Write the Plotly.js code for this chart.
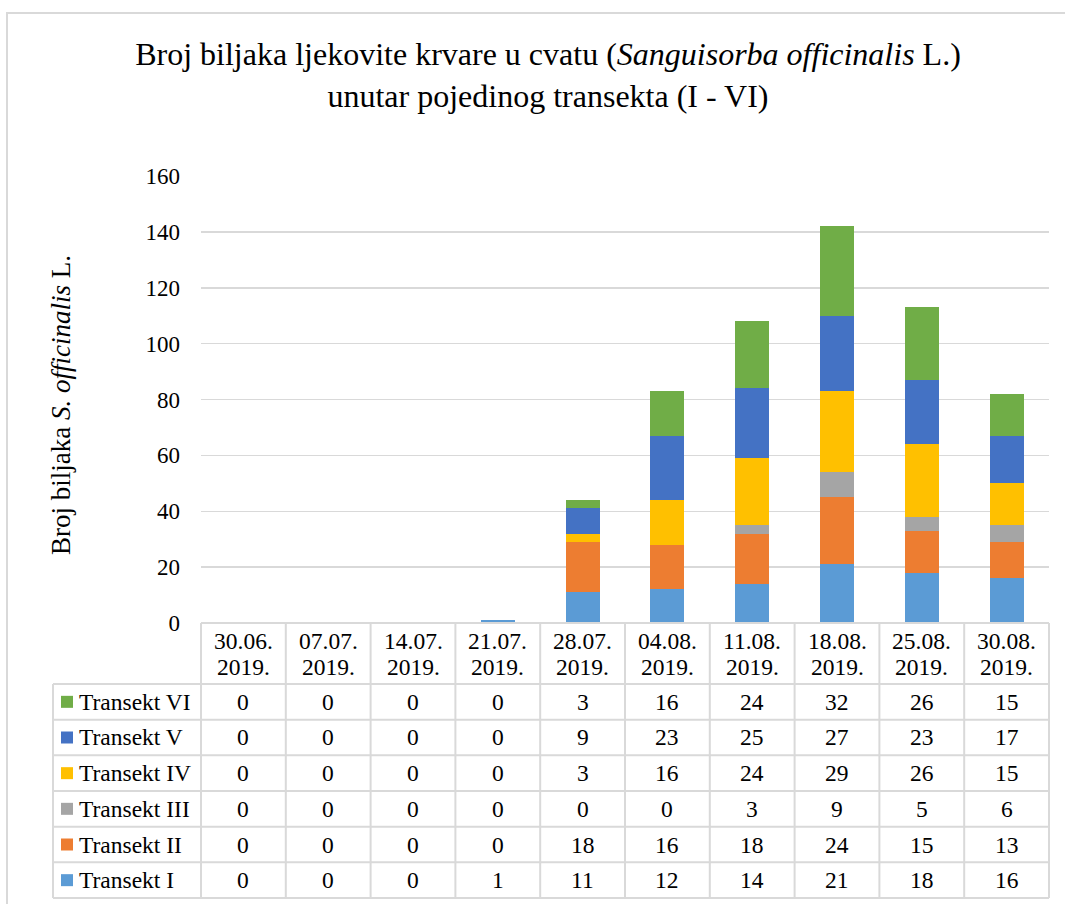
<!DOCTYPE html>
<html>
<head>
<meta charset="utf-8">
<script src="https://cdn.plot.ly/plotly-3.0.1.min.js"></script>
<style>
  html, body { margin: 0; padding: 0; background: #ffffff; }
  #chart { width: 1065px; height: 904px; }
</style>
</head>
<body>
<div id="chart"></div>
<script>
// ---- Data ----
const dates = ['30.06. 2019.', '07.07. 2019.', '14.07. 2019.', '21.07. 2019.', '28.07. 2019.',
               '04.08. 2019.', '11.08. 2019.', '18.08. 2019.', '25.08. 2019.', '30.08. 2019.'];
const seriesNames = ['Transekt I', 'Transekt II', 'Transekt III', 'Transekt IV', 'Transekt V', 'Transekt VI'];
const transektI   = [0, 0, 0, 1, 11, 12, 14, 21, 18, 16];
const transektII  = [0, 0, 0, 0, 18, 16, 18, 24, 15, 13];
const transektIII = [0, 0, 0, 0, 0, 0, 3, 9, 5, 6];
const transektIV  = [0, 0, 0, 0, 3, 16, 24, 29, 26, 15];
const transektV   = [0, 0, 0, 0, 9, 23, 25, 27, 23, 17];
const transektVI  = [0, 0, 0, 0, 3, 16, 24, 32, 26, 15];
const yTicks = [0, 20, 40, 60, 80, 100, 120, 140, 160];

const seriesValues = [transektI, transektII, transektIII, transektIV, transektV, transektVI];
const seriesColors = ['#5B9BD5', '#ED7D31', '#A5A5A5', '#FFC000', '#4472C4', '#70AD47'];

// ---- Geometry helpers (pixel -> paper) ----
const PL = 201, PR = 1049, PT = 176, PB = 623;
const px2x = px => (px - PL) / (PR - PL);
const py2y = py => (PB - py) / (PB - PT);
const FONT = 'Liberation Serif, Times New Roman, Times, serif';
const GRID = '#d9d9d9';
const TFS = 23.5;

// ---- Traces ----
const traces = seriesNames.map((name, i) => ({
  type: 'bar',
  name: name,
  x: dates,
  y: seriesValues[i],
  marker: { color: seriesColors[i], line: { width: 0 } },
  hoverinfo: 'x+y+name'
}));

// ---- Table (shapes + annotations) ----
const shapes = [];
const annotations = [];
const headerTop = 623, headerBot = 684, rowH = (898 - 684) / 6, tableLeft = 53;
const colW = (PR - PL) / dates.length;

// outer chart border
shapes.push({ type: 'rect', xref: 'paper', yref: 'paper',
  x0: px2x(7), x1: px2x(1075), y0: py2y(13), y1: py2y(915),
  line: { color: GRID, width: 2 }, fillcolor: 'rgba(0,0,0,0)' });

// header top line (axis baseline)
shapes.push({ type: 'line', xref: 'paper', yref: 'paper',
  x0: px2x(PL), x1: px2x(PR), y0: py2y(headerTop), y1: py2y(headerTop),
  line: { color: GRID, width: 2 } });
// horizontal lines of rows
for (let r = 0; r <= 6; r++) {
  const py = headerBot + r * rowH;
  shapes.push({ type: 'line', xref: 'paper', yref: 'paper',
    x0: px2x(tableLeft), x1: px2x(PR), y0: py2y(py), y1: py2y(py),
    line: { color: GRID, width: 2 } });
}
// vertical lines
shapes.push({ type: 'line', xref: 'paper', yref: 'paper',
  x0: px2x(tableLeft), x1: px2x(tableLeft), y0: py2y(headerBot), y1: py2y(898),
  line: { color: GRID, width: 2 } });
for (let c = 0; c <= dates.length; c++) {
  const px = PL + c * colW;
  shapes.push({ type: 'line', xref: 'paper', yref: 'paper',
    x0: px2x(px), x1: px2x(px), y0: py2y(headerTop), y1: py2y(898),
    line: { color: GRID, width: 2 } });
}

// header text (dates, two lines)
dates.forEach(d => {
  const parts = d.split(' ');
  annotations.push({ xref: 'x', yref: 'paper', x: d, y: py2y(641), text: parts[0],
    showarrow: false, xanchor: 'center', yanchor: 'middle', font: { family: FONT, size: TFS, color: '#000' } });
  annotations.push({ xref: 'x', yref: 'paper', x: d, y: py2y(667), text: parts[1],
    showarrow: false, xanchor: 'center', yanchor: 'middle', font: { family: FONT, size: TFS, color: '#000' } });
});

// rows: top row is last series
for (let r = 0; r < 6; r++) {
  const si = 5 - r;
  const cy = headerBot + (r + 0.5) * rowH;
  // legend key
  shapes.push({ type: 'rect', xref: 'paper', yref: 'paper',
    x0: px2x(61), x1: px2x(73), y0: py2y(cy - 6), y1: py2y(cy + 6),
    fillcolor: seriesColors[si], line: { width: 0 } });
  annotations.push({ xref: 'paper', yref: 'paper', x: px2x(77), y: py2y(cy), text: seriesNames[si],
    showarrow: false, xanchor: 'left', yanchor: 'middle', font: { family: FONT, size: TFS, color: '#000' } });
  dates.forEach((d, ci) => {
    annotations.push({ xref: 'x', yref: 'paper', x: d, y: py2y(cy), text: String(seriesValues[si][ci]),
      showarrow: false, xanchor: 'center', yanchor: 'middle', font: { family: FONT, size: TFS, color: '#000' } });
  });
}

// y-axis title (rotated)
annotations.push({ xref: 'paper', yref: 'paper', x: px2x(61), y: py2y(405),
  text: 'Broj biljaka <i>S. officinalis</i> L.', textangle: -90, showarrow: false,
  xanchor: 'center', yanchor: 'middle', font: { family: FONT, size: 27, color: '#000' } });

const layout = {
  width: 1065, height: 904,
  margin: { l: PL, r: 1065 - PR, t: PT, b: 904 - PB, pad: 0 },
  paper_bgcolor: '#ffffff', plot_bgcolor: '#ffffff',
  showlegend: false,
  barmode: 'stack',
  bargap: 0.6,
  font: { family: FONT, color: '#000' },
  title: {
    text: 'Broj biljaka ljekovite krvare u cvatu (<i>Sanguisorba officinalis</i> L.)<br>unutar pojedinog transekta (I - VI)',
    font: { family: FONT, size: 32, color: '#000' },
    xref: 'container', x: 548 / 1065, xanchor: 'center',
    yref: 'container', y: 1 - 65 / 904, yanchor: 'middle'
  },
  xaxis: {
    type: 'category', categoryorder: 'array', categoryarray: dates,
    showticklabels: false, showgrid: false, zeroline: false, showline: false, ticks: '',
    range: [-0.5, dates.length - 0.5], fixedrange: true
  },
  yaxis: {
    range: [0, 160], tickvals: yTicks, ticktext: yTicks.map(String),
    showgrid: true, gridcolor: GRID, gridwidth: 1.5, zeroline: false, showline: false,
    ticks: '', ticklabelstandoff: 20,
    tickfont: { family: FONT, size: 23, color: '#000' }, fixedrange: true
  },
  shapes: shapes,
  annotations: annotations
};

Plotly.newPlot('chart', traces, layout, { displayModeBar: false, staticPlot: true });
</script>
</body>
</html>
